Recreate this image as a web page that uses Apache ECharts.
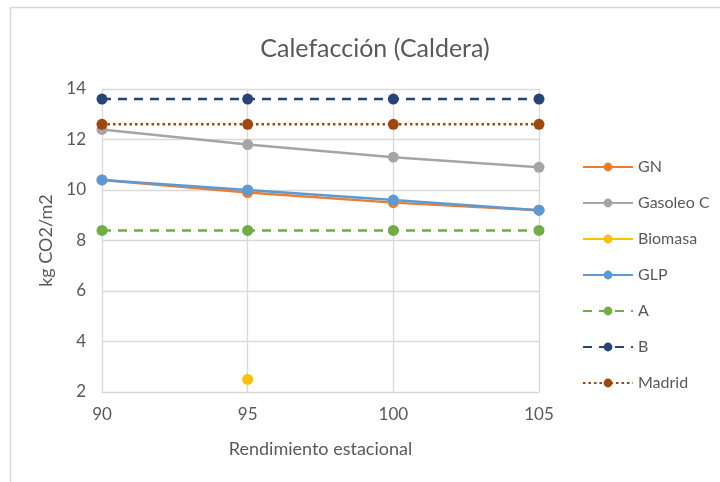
<!DOCTYPE html>
<html>
<head>
<meta charset="utf-8">
<script src="https://cdn.jsdelivr.net/npm/echarts@6/dist/echarts.min.js"></script>
<style>
html,body{margin:0;padding:0;background:#fff;}
#chart{width:720px;height:482px;}
</style>
</head>
<body>
<div id="chart"></div>
<script>
// data
var xValues = [90, 95, 100, 105];
var gn = [10.4, 9.9, 9.5, 9.2];
var gasoleo = [12.4, 11.8, 11.3, 10.9];
var biomasa = [null, 2.5, null, null];
var glp = [10.4, 10.0, 9.6, 9.2];
var refA = [8.4, 8.4, 8.4, 8.4];
var refB = [13.6, 13.6, 13.6, 13.6];
var madrid = [12.6, 12.6, 12.6, 12.6];

var font = "Lato";
var txt = "#595959";

function pairs(arr){
    var out = [];
    for (var i = 0; i < xValues.length; i++) out.push([xValues[i], arr[i]]);
    return out;
}

function mkSeries(name, arr, color, type){
    return {
        name: name,
        type: 'line',
        data: pairs(arr),
        symbol: 'circle',
        symbolSize: 11,
        connectNulls: false,
        itemStyle: {color: color},
        lineStyle: {color: color, width: 2.5, type: type || 'solid'},
        emphasis: {disabled: true}
    };
}

var myChart = echarts.init(document.getElementById('chart'));
var option = {
    animation: false,
    textStyle: {fontFamily: font},
    title: {
        text: 'Calefacción (Caldera)',
        left: 370, top: 31, textAlign: 'center',
        textStyle: {fontFamily: font, fontSize: 25, fontWeight: 'normal', color: txt}
    },
    graphic: [{
        type: 'rect', silent: true,
        shape: {x: 10.5, y: 7.5, width: 720, height: 490},
        style: {fill: 'none', stroke: '#d9d9d9', lineWidth: 1.5}
    }],
    grid: {left: 102, right: 181, top: 89, bottom: 90},
    legend: {
        orient: 'vertical',
        left: 577, top: 154,
        itemWidth: 50, itemHeight: 11,
        itemGap: 20,
        textStyle: {fontFamily: font, fontSize: 16, color: txt},
        data: ['GN', 'Gasoleo C', 'Biomasa', 'GLP', 'A', 'B', 'Madrid']
    },
    xAxis: {
        type: 'value', min: 90, max: 105, interval: 5,
        name: 'Rendimiento estacional',
        nameLocation: 'middle', nameGap: 48,
        nameTextStyle: {fontFamily: font, fontSize: 18, color: txt},
        axisLine: {show: true, lineStyle: {color: '#d9d9d9'}},
        axisTick: {show: false},
        axisLabel: {fontFamily: font, fontSize: 17, color: txt, margin: 14},
        splitLine: {show: true, lineStyle: {color: '#d9d9d9', width: 1.3}}
    },
    yAxis: {
        type: 'value', min: 2, max: 14, interval: 2,
        name: 'kg CO2/m2',
        nameLocation: 'middle', nameGap: 38,
        nameTextStyle: {fontFamily: font, fontSize: 18, color: txt},
        axisLine: {show: true, lineStyle: {color: '#d9d9d9'}},
        axisTick: {show: false},
        axisLabel: {fontFamily: font, fontSize: 17, color: txt, margin: 16},
        splitLine: {show: true, lineStyle: {color: '#d9d9d9', width: 1.3}}
    },
    series: [
        mkSeries('GN', gn, '#ED7D31'),
        mkSeries('Gasoleo C', gasoleo, '#A5A5A5'),
        mkSeries('Biomasa', biomasa, '#FFC000'),
        mkSeries('GLP', glp, '#5B9BD5'),
        mkSeries('A', refA, '#70AD47', [9, 7]),
        mkSeries('B', refB, '#264478', [9, 7]),
        mkSeries('Madrid', madrid, '#9E480E', [2.5, 3])
    ]
};
myChart.setOption(option);
</script>
</body>
</html>
